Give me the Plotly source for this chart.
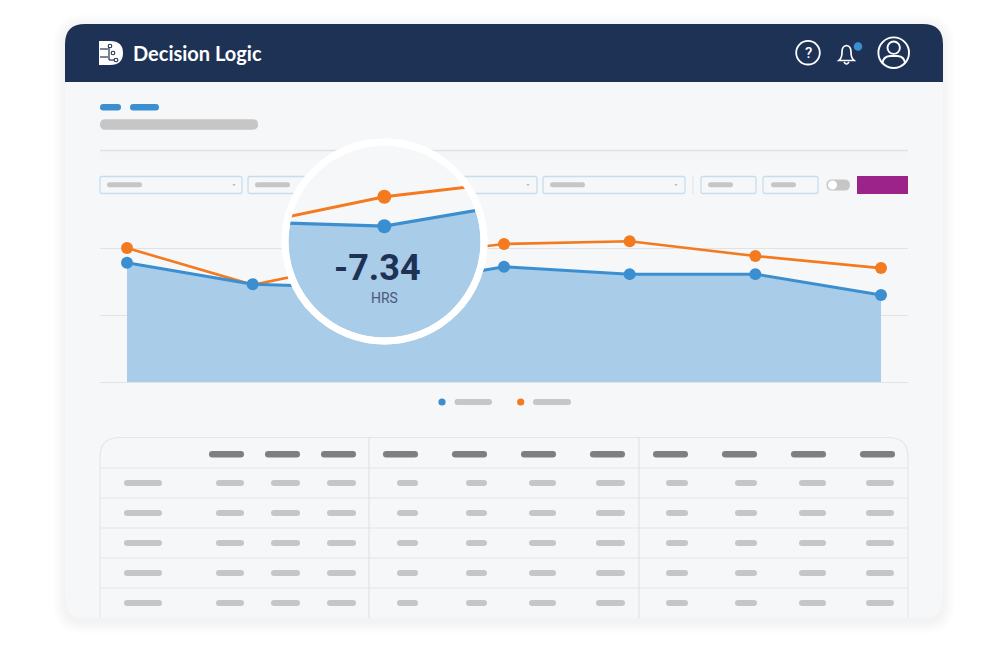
"""Decision Logic dashboard card with the hours chart and its magnifier."""
import numpy as np
from plotly import graph_objects as go

# chart data
periods = ["P1", "P2", "P3", "P4", "P5", "P6", "P7"]
blue_hours = [17.8, 14.6, 14.0, 17.2, 16.1, 16.1, 13.0]
orange_hours = [20.0, 14.5, 18.4, 20.6, 21.0, 18.8, 17.0]
grid_hours = [0, 10, 20]

brand_name = "Decision Logic"
lens_value = "-7.34"
lens_unit = "HRS"

W, H = 1000, 653
NAVY = "#1e3256"
BLUE = "#3b8fd0"
ORANGE = "#f47a20"
AREA = "#a9cce8"
BODY = "#f6f7f9"
SKELETON = "#c6c6c6"
SKELETON_DARK = "#7f7f7f"
RULE = "#e3e4e7"
FIELD = "#c5deef"

# pixel geometry of the chart
X0, X_STEP = 127, 125.67
Y0, Y_UNIT = 382, 6.7
LENS_DX, LENS_DY = 6, -62
LENS_C = (384.5, 241.5)
LENS_R = 96

index = np.arange(len(periods))


def px(x):
    return x / W


def py(y):
    return 1 - y / H


def rrect(x0, y0, x1, y1, r, fill, line=None, lw=1, top_only=False, opacity=1, layer="below"):
    b = 0 if top_only else r
    path = (
        f"M {px(x0 + r)} {py(y0)} L {px(x1 - r)} {py(y0)} "
        f"Q {px(x1)} {py(y0)} {px(x1)} {py(y0 + r)} L {px(x1)} {py(y1 - b)} "
        f"Q {px(x1)} {py(y1)} {px(x1 - b)} {py(y1)} L {px(x0 + b)} {py(y1)} "
        f"Q {px(x0)} {py(y1)} {px(x0)} {py(y1 - b)} L {px(x0)} {py(y0 + r)} "
        f"Q {px(x0)} {py(y0)} {px(x0 + r)} {py(y0)} Z"
    )
    return dict(
        type="path", xref="paper", yref="paper", path=path, fillcolor=fill, opacity=opacity,
        line=dict(color=line or "rgba(0,0,0,0)", width=lw if line else 0), layer=layer,
    )


def pill(x0, x1, y, h, color):
    return rrect(x0, y - h / 2, x1, y + h / 2, h / 2, color)


def seg(x0, y0, x1, y1, color, lw=1, layer="below"):
    return dict(
        type="line", xref="paper", yref="paper", x0=px(x0), y0=py(y0), x1=px(x1), y1=py(y1),
        line=dict(color=color, width=lw), layer=layer,
    )


def circle(cx, cy, r, fill="rgba(0,0,0,0)", line=None, lw=0, layer="below"):
    return dict(
        type="circle", xref="paper", yref="paper",
        x0=px(cx - r), x1=px(cx + r), y0=py(cy + r), y1=py(cy - r), fillcolor=fill,
        line=dict(color=line or "rgba(0,0,0,0)", width=lw), layer=layer,
    )


def free_path(points, fill="rgba(0,0,0,0)", line=None, lw=0, close=False):
    cmds = []
    for p in points:
        cmds.append(p[0] + " " + " ".join(
            f"{px(p[i])} {py(p[i + 1])}" for i in range(1, len(p), 2)
        ))
    path = " ".join(cmds) + (" Z" if close else "")
    return dict(
        type="path", xref="paper", yref="paper", path=path, fillcolor=fill,
        line=dict(color=line or "rgba(0,0,0,0)", width=lw), layer="below",
    )


shapes = []

# card shadow, then card
for grow in range(1, 13):
    shapes.append(rrect(65 - grow, 26 - grow, 943 + grow, 622 + grow, 20 + grow, "#5a6478", opacity=0.008))
shapes.append(rrect(65, 24, 943, 618, 20, BODY))
shapes.append(rrect(65, 24, 943, 82, 20, NAVY, top_only=True))

# logo
shapes.append(free_path(
    [("M", 99, 41), ("L", 110, 41), ("Q", 123, 41, 123, 53), ("Q", 123, 65, 110, 65), ("L", 99, 65)],
    fill="white", close=True,
))
shapes.append(seg(100, 49, 108, 49, NAVY, 1.2))
shapes.append(seg(100, 57, 108, 57, NAVY, 1.2))
shapes.append(seg(109, 46, 109, 60, NAVY, 1.2))
shapes.append(seg(109, 60, 114, 60, NAVY, 1.2))
for cx, cy in [(110, 46), (113, 53), (116, 60)]:
    shapes.append(circle(cx, cy, 1.8, fill="white", line=NAVY, lw=1.1))

# header icons
shapes.append(circle(808, 52.7, 11.8, line="white", lw=1.8))
shapes.append(free_path(
    [("M", 839, 60.5), ("Q", 842, 58, 842, 52), ("Q", 842, 46, 846.5, 45.5), ("Q", 851, 46, 851, 52),
     ("Q", 851, 58, 854, 60.5)],
    line="white", lw=1.7, close=True,
))
shapes.append(free_path(
    [("M", 844, 62), ("Q", 846.5, 66, 849, 62)], line="white", lw=1.5,
))
shapes.append(circle(858, 46.5, 4.3, fill=BLUE))
shapes.append(circle(893.7, 52.7, 15.3, line="white", lw=1.9))
shapes.append(circle(893.7, 47.7, 6.2, line="white", lw=1.9))
shapes.append(free_path(
    [("M", 882.5, 63.5), ("Q", 883, 56.5, 890, 56), ("L", 897.5, 56), ("Q", 904.5, 56.5, 905, 63.5)],
    line="white", lw=1.9,
))

# breadcrumb, title, rule
shapes.append(pill(100, 121, 107.3, 6.5, BLUE))
shapes.append(pill(130, 159, 107.3, 6.5, BLUE))
shapes.append(pill(100, 258, 124.5, 10.5, SKELETON))
shapes.append(rrect(100, 151, 908, 160, 0, "#f4f5f7"))
shapes.append(seg(100, 150.5, 908, 150.5, "#e0e1e4", 1.5))

# filter row
for x0, x1, bar0, bar1, chev in [
    (100, 242, 107, 142, 234), (248, 390, 255, 290, 382), (395, 537, 402, 437, 528), (543, 685, 550, 585, 676),
]:
    shapes.append(rrect(x0, 176.5, x1, 193.5, 2, BODY, FIELD, 1.3))
    shapes.append(pill(bar0, bar1, 184.7, 5, SKELETON))
    shapes.append(free_path([("M", chev - 1.6, 184), ("L", chev + 1.6, 184), ("L", chev, 186.3)], fill="#b9bcc0", close=True))
shapes.append(seg(693, 176, 693, 194, "#e6e7ea", 1.2))
for x0, x1, bar0, bar1 in [(701, 756, 708, 733), (763, 818, 771, 796)]:
    shapes.append(rrect(x0, 176.5, x1, 193.5, 2, BODY, FIELD, 1.3))
    shapes.append(pill(bar0, bar1, 184.7, 5, SKELETON))
shapes.append(pill(826.5, 850, 185, 11, SKELETON))
shapes.append(circle(832.5, 185, 4.6, fill="white"))
shapes.append(rrect(857, 176, 908, 194, 0.5, "#9b2389"))

# legend placeholders
shapes.append(circle(442, 402, 3.6, fill=BLUE))
shapes.append(pill(454.5, 492, 402, 6, SKELETON))
shapes.append(circle(520.7, 402, 3.6, fill=ORANGE))
shapes.append(pill(533, 571, 402, 6, SKELETON))

# table
header_cells = [(209, 244), (265, 300), (321, 356), (383, 418), (452, 487), (521, 556), (590, 625),
                (653, 688), (722, 757), (791, 826), (860, 895)]
body_cells = [(124, 162), (216, 244), (271, 300), (327, 356), (397, 418), (466, 487), (529, 556), (596, 625),
              (666, 688), (735, 757), (799, 826), (866, 894)]
row_y = [483, 513, 543, 573, 603]
row_rules = [468, 498, 528, 558, 588]
table_v = [369, 639]

shapes.append(free_path(
    [("M", 100, 618), ("L", 100, 457), ("Q", 100, 437.5, 120, 437.5), ("L", 888, 437.5),
     ("Q", 908, 437.5, 908, 457), ("L", 908, 618)],
    line="#e5e6e9", lw=1.2,
))
for y in row_rules:
    shapes.append(seg(100, y, 908, y, "#e5e6e9", 1.2))
for x in table_v:
    shapes.append(seg(x, 437.5, x, 618, "#e1e2e5", 1.2))
for x0, x1 in header_cells:
    shapes.append(pill(x0, x1, 454.3, 6.4, SKELETON_DARK))
for y in row_y:
    for x0, x1 in body_cells:
        shapes.append(pill(x0, x1, y, 6, SKELETON))

# magnifier ring stays over the lens lines
shapes.append(circle(LENS_C[0], LENS_C[1], 99.5, line="white", lw=7, layer="above"))


def lens_index(x):
    return (x - X0 - LENS_DX) / X_STEP


def lens_hours(y):
    return (Y0 + LENS_DY - y) / Y_UNIT


# lens fill: the area under the blue line, cut by the lens circle
scan_x = np.linspace(LENS_C[0] - LENS_R, LENS_C[0] + LENS_R, 800)
scan_y = Y0 + LENS_DY - Y_UNIT * np.interp(lens_index(scan_x), index, blue_hours)
inside = (scan_x - LENS_C[0]) ** 2 + (scan_y - LENS_C[1]) ** 2 <= LENS_R ** 2
line_x, line_y = scan_x[inside], scan_y[inside]
a0 = np.arctan2(line_y[-1] - LENS_C[1], line_x[-1] - LENS_C[0])
a1 = np.arctan2(line_y[0] - LENS_C[1], line_x[0] - LENS_C[0]) % (2 * np.pi)
arc = np.linspace(a0, a1, 160)
fill_x = np.concatenate([line_x, LENS_C[0] + LENS_R * np.cos(arc)])
fill_y = np.concatenate([line_y, LENS_C[1] + LENS_R * np.sin(arc)])

fig = go.Figure()

# base chart, blue on top of orange where they meet
fig.add_trace(go.Scatter(
    x=index, y=orange_hours, mode="lines+markers",
    line=dict(color=ORANGE, width=2.6), marker=dict(color=ORANGE, size=12), name="Orange",
    cliponaxis=False,
))
fig.add_trace(go.Scatter(
    x=index, y=blue_hours, mode="lines+markers", fill="tozeroy", fillcolor=AREA,
    line=dict(color=BLUE, width=3), marker=dict(color=BLUE, size=12), name="Blue",
    cliponaxis=False,
))

# lens background and fill
fig.add_trace(go.Scatter(
    x=[lens_index(LENS_C[0])], y=[lens_hours(LENS_C[1])], mode="markers", xaxis="x2", yaxis="y2",
    marker=dict(size=199, color=BODY, line=dict(color="white", width=7)), cliponaxis=False,
))
fig.add_trace(go.Scatter(
    x=lens_index(fill_x), y=lens_hours(fill_y), mode="none", fill="toself", fillcolor=AREA,
    xaxis="x2", yaxis="y2",
))

# lens lines, cut off under the ring by their own boxes
fig.add_trace(go.Scatter(
    x=index, y=blue_hours, mode="lines+markers", xaxis="x3", yaxis="y3",
    line=dict(color=BLUE, width=3.2), marker=dict(color=BLUE, size=14),
))
fig.add_trace(go.Scatter(
    x=index, y=orange_hours, mode="lines+markers", xaxis="x4", yaxis="y4",
    line=dict(color=ORANGE, width=3), marker=dict(color=ORANGE, size=14),
))

annotations = [
    dict(x=px(131), y=py(53), text=brand_name, xanchor="left", yanchor="middle",
         font=dict(family="Lato", size=20, color="white", weight=700)),
    dict(x=px(808), y=py(53), text="?", xanchor="center", yanchor="middle",
         font=dict(family="Roboto", size=15, color="white", weight=500)),
    dict(x=px(377.5), y=py(268), text=lens_value, xanchor="center", yanchor="middle",
         font=dict(family="Roboto", size=36, color=NAVY, weight=700)),
    dict(x=px(384.5), y=py(298), text=lens_unit, xanchor="center", yanchor="middle",
         font=dict(family="Roboto", size=14, color="#4a5a78")),
]
for a in annotations:
    a.update(xref="paper", yref="paper", showarrow=False)

hidden = dict(visible=False, fixedrange=True)
fig.update_layout(
    autosize=False,
    width=W,
    height=H,
    margin=dict(l=0, r=0, t=0, b=0, pad=0),
    paper_bgcolor="white",
    plot_bgcolor="rgba(0,0,0,0)",
    showlegend=False,
    hovermode=False,
    shapes=shapes,
    annotations=annotations,
    xaxis=dict(
        domain=[px(100), px(908)],
        range=[(100 - X0) / X_STEP, (908 - X0) / X_STEP],
        showgrid=False, zeroline=False, showticklabels=False, ticks="", fixedrange=True,
    ),
    yaxis=dict(
        domain=[py(382), py(210)],
        range=[0, (Y0 - 210) / Y_UNIT],
        tickvals=grid_hours, showgrid=True, gridcolor="#e1e2e5", gridwidth=1.3,
        zeroline=True, zerolinecolor="#e1e2e5", zerolinewidth=1.3,
        showticklabels=False, ticks="", fixedrange=True,
    ),
    xaxis2=dict(
        hidden, anchor="y2", domain=[px(280), px(490)],
        range=[lens_index(280), lens_index(490)],
    ),
    yaxis2=dict(
        hidden, anchor="x2", domain=[py(348), py(135)],
        range=[lens_hours(348), lens_hours(135)],
    ),
    xaxis3=dict(
        hidden, anchor="y3", domain=[px(288), px(475)],
        range=[lens_index(288), lens_index(475)],
    ),
    yaxis3=dict(
        hidden, anchor="x3", domain=[py(250), py(150)],
        range=[lens_hours(250), lens_hours(150)],
    ),
    xaxis4=dict(
        hidden, anchor="y4", domain=[px(288), px(466)],
        range=[lens_index(288), lens_index(466)],
    ),
    yaxis4=dict(
        hidden, anchor="x4", domain=[py(250), py(150)],
        range=[lens_hours(250), lens_hours(150)],
    ),
)

fig.write_html(
    "out.html",
    config=dict(displayModeBar=False),
    post_script="document.body.style.margin='0';document.body.style.overflow='hidden';",
)
